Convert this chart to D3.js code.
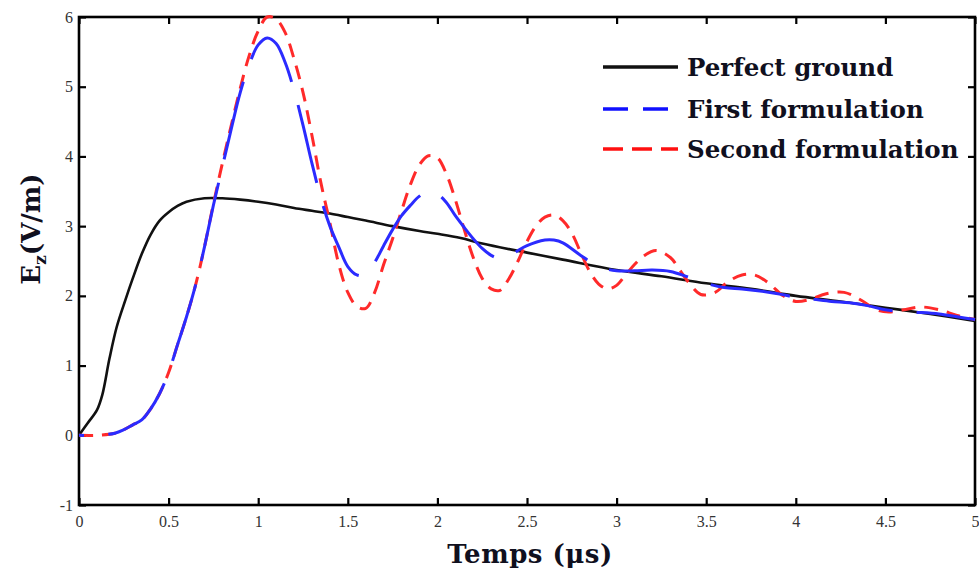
<!DOCTYPE html>
<html>
<head>
<meta charset="utf-8">
<script src="https://cdn.jsdelivr.net/npm/d3@7/dist/d3.min.js"></script>
<style>
  html, body { margin: 0; padding: 0; background: #fff; }
  svg { display: block; }
</style>
</head>
<body>
<svg id="chart" width="979" height="576"></svg>
<script>
// ---------- data ----------
const xTicks = [0, 0.5, 1, 1.5, 2, 2.5, 3, 3.5, 4, 4.5, 5];
const xTickLabels = ["0", "0.5", "1", "1.5", "2", "2.5", "3", "3.5", "4", "4.5", "5"];
const yTicks = [-1, 0, 1, 2, 3, 4, 5, 6];
const yTickLabels = ["-1", "0", "1", "2", "3", "4", "5", "6"];

const seriesNames = ["Perfect ground", "First formulation", "Second formulation"];

// Perfect ground
const tPerfect = [0, 0.05, 0.1, 0.13, 0.17, 0.21, 0.26, 0.3, 0.35, 0.4, 0.45, 0.5, 0.55, 0.6, 0.7, 0.8, 0.9, 1.0, 1.1, 1.2, 1.3, 1.4, 1.5, 1.6, 1.75, 1.9, 2.0, 2.13, 2.25, 2.5, 2.7, 3.0, 3.25, 3.5, 3.75, 4.0, 4.25, 4.5, 4.75, 5.0];
const vPerfect = [0, 0.18, 0.36, 0.58, 1.1, 1.55, 1.95, 2.25, 2.6, 2.88, 3.08, 3.2, 3.29, 3.35, 3.4, 3.4, 3.38, 3.35, 3.31, 3.26, 3.22, 3.18, 3.13, 3.08, 3.0, 2.93, 2.89, 2.83, 2.75, 2.62, 2.52, 2.37, 2.28, 2.18, 2.1, 2.0, 1.92, 1.83, 1.74, 1.64];

// First formulation
const tFirst = [0, 0.1, 0.2, 0.25, 0.3, 0.35, 0.4, 0.45, 0.5, 0.55, 0.6, 0.65, 0.7, 0.75, 0.8, 0.85, 0.9, 0.95, 1.0, 1.05, 1.1, 1.15, 1.2, 1.25, 1.3, 1.35, 1.4, 1.45, 1.5, 1.55, 1.6, 1.65, 1.7, 1.75, 1.8, 1.85, 1.9, 1.95, 2.0, 2.05, 2.1, 2.15, 2.2, 2.25, 2.3, 2.35, 2.4, 2.45, 2.5, 2.6, 2.65, 2.7, 2.8, 2.9, 3.0, 3.1, 3.2, 3.3, 3.4, 3.5, 3.6, 3.7, 3.8, 3.9, 4.0, 4.1, 4.2, 4.3, 4.4, 4.5, 4.6, 4.7, 4.8, 4.9, 5.0];
const vFirst = [0, 0, 0.03, 0.08, 0.15, 0.22, 0.38, 0.6, 0.9, 1.3, 1.7, 2.15, 2.7, 3.3, 3.85, 4.4, 4.92, 5.32, 5.6, 5.7, 5.62, 5.35, 4.95, 4.45, 3.9, 3.4, 3.0, 2.7, 2.42, 2.3, 2.3, 2.48, 2.72, 2.95, 3.15, 3.3, 3.43, 3.5, 3.46, 3.34, 3.15, 2.98, 2.82, 2.68, 2.58, 2.53, 2.56, 2.65, 2.72, 2.8, 2.8, 2.76, 2.58, 2.42, 2.36, 2.36, 2.37, 2.35, 2.27, 2.18, 2.12, 2.1, 2.07, 2.03, 1.98, 1.95, 1.92, 1.9, 1.86, 1.8, 1.77, 1.76, 1.74, 1.7, 1.66];

// Second formulation
const tSecond = [0, 0.1, 0.2, 0.25, 0.3, 0.35, 0.4, 0.45, 0.5, 0.55, 0.6, 0.65, 0.7, 0.75, 0.8, 0.85, 0.9, 0.95, 1.0, 1.05, 1.1, 1.15, 1.2, 1.25, 1.3, 1.35, 1.4, 1.45, 1.5, 1.55, 1.6, 1.65, 1.7, 1.75, 1.8, 1.85, 1.9, 1.95, 2.0, 2.05, 2.1, 2.15, 2.2, 2.25, 2.3, 2.35, 2.4, 2.45, 2.5, 2.55, 2.6, 2.65, 2.7, 2.75, 2.8, 2.85, 2.9, 2.95, 3.0, 3.05, 3.1, 3.15, 3.22, 3.3, 3.35, 3.4, 3.47, 3.55, 3.62, 3.7, 3.77, 3.85, 3.93, 4.0, 4.08, 4.17, 4.27, 4.37, 4.45, 4.52, 4.6, 4.7, 4.8, 4.9, 5.0];
const vSecond = [0, 0, 0.03, 0.08, 0.15, 0.22, 0.38, 0.6, 0.9, 1.3, 1.7, 2.15, 2.7, 3.32, 3.9, 4.45, 4.98, 5.45, 5.8, 6.0, 5.97, 5.78, 5.4, 4.92, 4.3, 3.62, 3.05, 2.45, 2.05, 1.85, 1.82, 2.05, 2.45, 2.82, 3.22, 3.6, 3.88, 4.01, 3.98, 3.75, 3.38, 2.95, 2.55, 2.25, 2.1, 2.08, 2.25, 2.5, 2.78, 3.0, 3.13, 3.16, 3.08, 2.9, 2.62, 2.35, 2.17, 2.1, 2.15, 2.3, 2.45, 2.57, 2.65, 2.55, 2.38, 2.2, 2.02, 2.05, 2.2, 2.3, 2.3, 2.18, 2.0, 1.92, 1.95, 2.03, 2.05, 1.93, 1.8, 1.77, 1.8, 1.84, 1.8, 1.72, 1.66];

// ---------- layout ----------
const svg = d3.select("#chart");
const mLeft = 79, mRight = 975, mTop = 17, mBottom = 505;

const x = d3.scaleLinear().domain([0, 5]).range([mLeft, mRight]);
const y = d3.scaleLinear().domain([-1, 6]).range([mBottom, mTop]);

const tickFont = "'Liberation Serif', 'Times New Roman', serif";
const boldFont = "'DejaVu Serif', Cambria, serif";

// axes (ticks pointing inward)
const gx = svg.append("g").attr("transform", `translate(0,${mBottom})`)
  .call(d3.axisBottom(x).tickValues(xTicks).tickFormat((d, i) => xTickLabels[i]).tickSizeInner(-7).tickSizeOuter(0).tickPadding(11));
const gy = svg.append("g").attr("transform", `translate(${mLeft},0)`)
  .call(d3.axisLeft(y).tickValues(yTicks).tickFormat((d, i) => yTickLabels[i]).tickSizeInner(-7).tickSizeOuter(0).tickPadding(6));
const gt = svg.append("g").attr("transform", `translate(0,${mTop})`)
  .call(d3.axisTop(x).tickValues(xTicks).tickFormat("").tickSizeInner(-7).tickSizeOuter(0));
const gr = svg.append("g").attr("transform", `translate(${mRight},0)`)
  .call(d3.axisRight(y).tickValues(yTicks).tickFormat("").tickSizeInner(-7).tickSizeOuter(0));

[gx, gy, gt, gr].forEach(g => {
  g.select(".domain").remove();
  g.selectAll(".tick line").attr("stroke", "#000").attr("stroke-width", 2.2);
  g.selectAll(".tick text").attr("font-family", tickFont).attr("font-size", 16).attr("fill", "#333");
});

// frame
svg.append("rect")
  .attr("x", mLeft).attr("y", mTop)
  .attr("width", mRight - mLeft).attr("height", mBottom - mTop)
  .attr("fill", "none").attr("stroke", "#000").attr("stroke-width", 2.6);

// ---------- lines ----------
const line = d3.line().x(d => x(d[0])).y(d => y(d[1])).curve(d3.curveCatmullRom.alpha(0.5));
const zip = (ts, vs) => ts.map((t, i) => [t, vs[i]]);

// length along a path (monotonic in x) where it reaches screen x = px
function lengthAtX(pathNode, px) {
  let lo = 0, hi = pathNode.getTotalLength();
  for (let k = 0; k < 40; k++) {
    const mid = (lo + hi) / 2;
    if (pathNode.getPointAtLength(mid).x < px) lo = mid; else hi = mid;
  }
  return lo;
}

const plot = svg.append("g");
plot.append("path").datum(zip(tPerfect, vPerfect))
  .attr("d", line).attr("fill", "none").attr("stroke", "#111").attr("stroke-width", 2.6);

const redPath = plot.append("path").datum(zip(tSecond, vSecond))
  .attr("d", line).attr("fill", "none").attr("stroke", "#ff2a2a").attr("stroke-width", 3)
  .attr("stroke-dasharray", "14,9");

const bluePath = plot.append("path").datum(zip(tFirst, vFirst))
  .attr("d", line).attr("fill", "none").attr("stroke", "#2b2bff").attr("stroke-width", 3)
  .attr("stroke-dasharray", "80,24");
// align dash phase so a gap begins near t = 1.56 (as in the reference)
{
  const L0 = lengthAtX(bluePath.node(), x(1.56));
  const period = 104;
  const off = (((80 - L0) % period) + period) % period;
  bluePath.attr("stroke-dashoffset", off);
}

// ---------- legend ----------
const legendStyles = [
  { color: "#111", dash: null },
  { color: "#1010ff", dash: "25,15" },
  { color: "#ff1010", dash: "20,9" }
];
const legendY = [67, 109, 149];
seriesNames.forEach((name, i) => {
  const g = svg.append("g");
  g.append("line")
    .attr("x1", 603).attr("x2", 678).attr("y1", legendY[i]).attr("y2", legendY[i])
    .attr("stroke", legendStyles[i].color).attr("stroke-width", 3.5)
    .attr("stroke-dasharray", legendStyles[i].dash);
  g.append("text")
    .attr("x", 687).attr("y", legendY[i] + 9)
    .attr("font-family", boldFont).attr("font-weight", "bold").attr("font-size", 24.5)
    .attr("fill", "#10101e").text(name);
});

// ---------- axis titles ----------
svg.append("text")
  .attr("x", 530).attr("y", 563).attr("text-anchor", "middle")
  .attr("font-family", boldFont).attr("font-weight", "bold").attr("font-size", 26)
  .attr("letter-spacing", 0.5)
  .attr("fill", "#10101e").text("Temps (μs)");

const yl = svg.append("text")
  .attr("transform", "translate(40,229) rotate(-90)")
  .attr("text-anchor", "middle")
  .attr("font-family", boldFont).attr("font-weight", "bold").attr("font-size", 26)
  .attr("fill", "#10101e");
yl.append("tspan").text("E");
yl.append("tspan").attr("font-size", 17).attr("dy", 6).text("z");
yl.append("tspan").attr("dy", -6).text("(V/m)");
</script>
</body>
</html>
